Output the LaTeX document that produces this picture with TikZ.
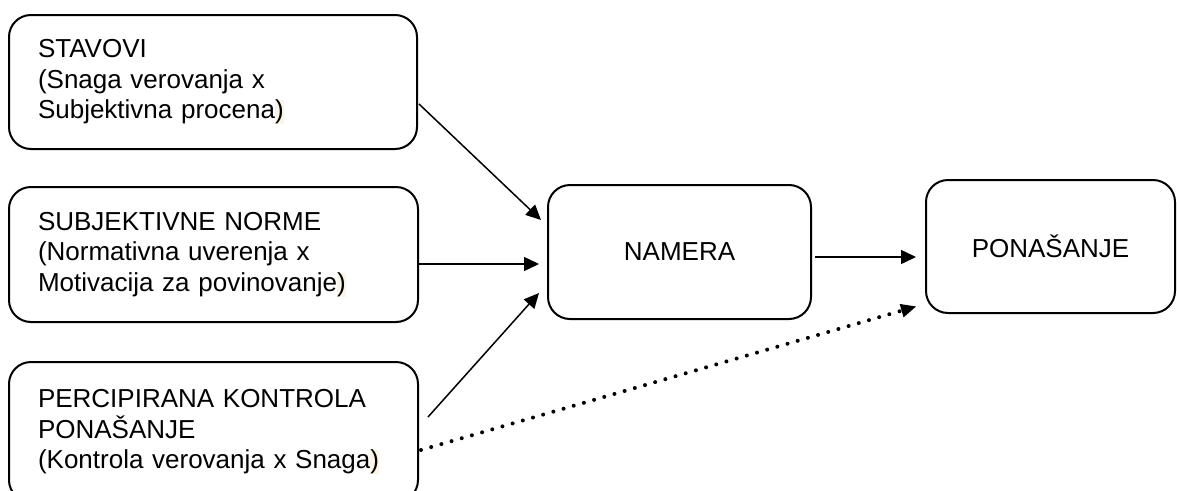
\documentclass[tikz,border=0pt]{standalone}
\usepackage{fontspec}
\setmainfont{Liberation Sans}
\usetikzlibrary{arrows.meta, calc}

\definecolor{hlcream}{RGB}{250,245,228}
\newcommand{\hlparen}{{\setlength{\fboxsep}{0pt}\colorbox{hlcream}{)}}}

\begin{document}
\begin{tikzpicture}[x=1pt, y=-1pt,
    font=\fontsize{26}{30.5}\selectfont,
    box/.style={draw, line width=2pt, rounded corners=22pt, align=left,
        inner xsep=29pt, anchor=center},
    arr/.style={line width=1.5pt, -{Triangle[length=15pt,width=14pt]}},
    dotarr/.style={line width=4pt, line cap=round, dash pattern=on 0pt off 10.6pt,
        -{Triangle[length=15pt,width=14pt,line width=0pt]}}]
    % page frame
    \useasboundingbox (0,0) rectangle (1177,490);
    \clip (0,0) rectangle (1177,490);
    % left column
    \node[box, minimum width=408pt, minimum height=134pt, text width=350pt]
        (stavovi) at (213,82) {STAVOVI\\(Snaga verovanja x\\Subjektivna procena\hlparen};
    \node[box, minimum width=409pt, minimum height=135pt, text width=351pt]
        (norme) at (213.5,254.5) {SUBJEKTIVNE NORME\\(Normativna uverenja x\\Motivacija za povinovanje\hlparen};
    \node[box, minimum width=409pt, minimum height=140pt, text width=351pt]
        (kontrola) at (213.5,432) {PERCIPIRANA KONTROLA\\PONAŠANJE\\(Kontrola verovanja x Snaga\hlparen};
    % middle and right
    \node[box, align=center, inner xsep=0pt, minimum width=263pt, minimum height=134pt]
        (namera) at (679.5,252) {NAMERA};
    \node[box, align=center, inner xsep=0pt, minimum width=249pt, minimum height=133pt]
        (ponasanje) at (1050.5,246.5) {PONAŠANJE};
    % arrows
    \draw[arr] ($(stavovi.east)+(1,22)$) -- ($(namera.west)+(-6,-32)$);
    \draw[arr] ($(norme.east)+(0,9.5)$) -- ($(namera.west)+(-8,12)$);
    \draw[arr] ($(kontrola.east)+(9,-15)$) -- ($(namera.west)+(-8,41)$);
    \draw[arr] ($(namera.east)+(3,5)$) -- ($(ponasanje.west)+(-9,10.5)$);
    \draw[dotarr] ($(kontrola.east)+(2,18)$) -- ($(ponasanje.west)+(-9,60)$);
\end{tikzpicture}
\end{document}
